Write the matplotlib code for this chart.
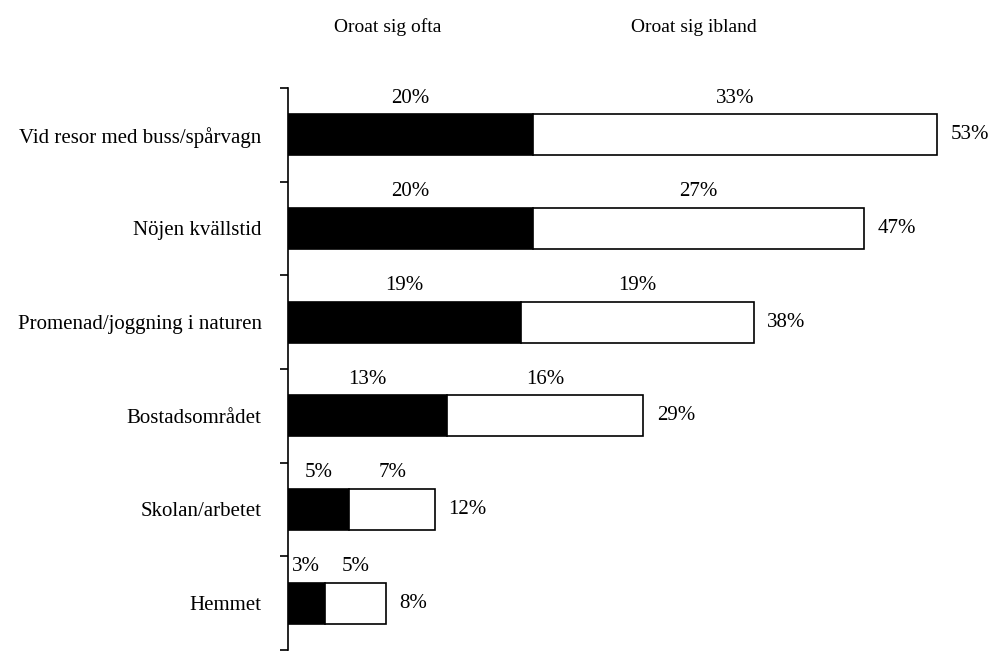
import numpy as np
import matplotlib.pyplot as plt

plt.rcParams['font.family'] = ['Liberation Serif', 'DejaVu Serif']
plt.rcParams['font.size'] = 15

categories = ['Vid resor med buss/spårvagn', 'Nöjen kvällstid',
              'Promenad/joggning i naturen', 'Bostadsområdet',
              'Skolan/arbetet', 'Hemmet']
often = [20, 20, 19, 13, 5, 3]
sometimes = [33, 27, 19, 16, 7, 5]
totals = [53, 47, 38, 29, 12, 8]

fig = plt.figure(figsize=(9.93, 6.52), dpi=100)
# axes placed so the zero line sits at x=288 px, spanning y 88..650 px
ax = fig.add_axes([288/993, 2/652, 674/993, 562/652])

y = np.arange(len(categories))
h = 0.44
ax.barh(y, often, height=h, color='black', edgecolor='black', linewidth=1.2)
ax.barh(y, sometimes, left=often, height=h, color='white',
        edgecolor='black', linewidth=1.2)

for i in range(len(categories)):
    ax.text(often[i] / 2, y[i] - h / 2 - 0.07, f'{often[i]}%',
            ha='center', va='bottom', fontsize=15)
    ax.text(often[i] + sometimes[i] / 2, y[i] - h / 2 - 0.07,
            f'{sometimes[i]}%', ha='center', va='bottom', fontsize=15)
    ax.text(totals[i] + 1.1, y[i], f'{totals[i]}%',
            ha='left', va='center', fontsize=15)

ax.set_xlim(0, 55)
ax.set_ylim(len(categories) - 0.5, -0.5)
ax.set_yticks(np.arange(-0.5, len(categories), 1))
ax.set_yticklabels([])
ax.set_yticks(y, minor=True)
ax.set_yticklabels(categories, minor=True)
ax.tick_params(axis='y', which='major', direction='out', length=6, width=1.2)
ax.tick_params(axis='y', which='minor', length=0, pad=19)
ax.set_xticks([])
for side in ['top', 'right', 'bottom']:
    ax.spines[side].set_visible(False)
ax.spines['left'].set_linewidth(1.2)

fig.text(388/993, 1 - 27/652, 'Oroat sig ofta', ha='center', va='center', fontsize=14)
fig.text(694/993, 1 - 27/652, 'Oroat sig ibland', ha='center', va='center', fontsize=14)

fig.savefig('out.png', dpi=100)
